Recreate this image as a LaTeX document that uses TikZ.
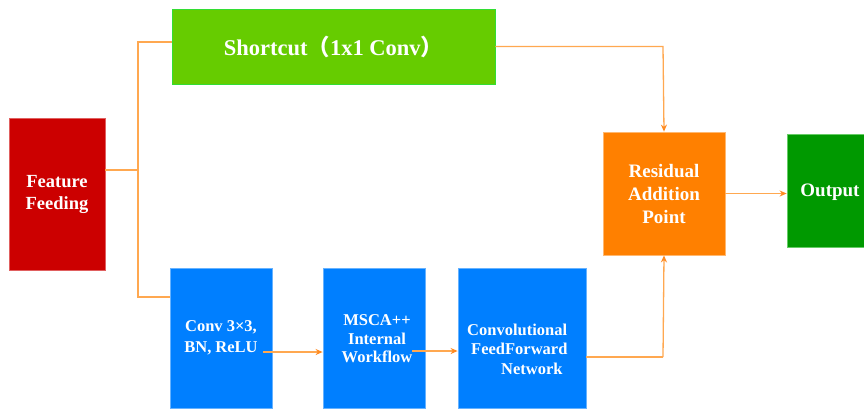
\documentclass[tikz,border=0pt]{standalone}
\usepackage{fontspec}
\setmainfont{Liberation Serif}
\newfontfamily\cjk{Noto Sans CJK SC}
\usetikzlibrary{arrows.meta}
\definecolor{fred}{HTML}{CC0000}
\definecolor{fredb}{HTML}{E06060}
\definecolor{fgreen}{HTML}{66CC00}
\definecolor{fgreenb}{HTML}{33DD33}
\definecolor{fblue}{HTML}{007FFF}
\definecolor{fblueb}{HTML}{66B2FF}
\definecolor{forange}{HTML}{FF8000}
\definecolor{forangeb}{HTML}{FFB870}
\definecolor{fdgreen}{HTML}{009900}
\definecolor{fdgreenb}{HTML}{66CC66}
\definecolor{lineor}{HTML}{FFA850}
\definecolor{arrowor}{HTML}{FF8A20}
\begin{document}
\begin{tikzpicture}[x=1pt,y=-1pt,
  box/.style={draw, line width=0.8pt, inner sep=0pt, text=white, align=center},
  txt/.style={text=white, inner sep=0pt},
  conn/.style={draw=lineor, line width=1.3pt},
  arr/.style={conn, -{Stealth[length=7pt,width=6pt,color=arrowor]}}]
\useasboundingbox[fill=white] (0,0) rectangle (864,408);
% boxes
\node[box, fill=fred, draw=fredb, minimum width=96pt, minimum height=152pt,
  font=\bfseries\fontsize{18.5}{22}\selectfont] (feed) at (57,194) {Feature\\Feeding};
\node[box, fill=fgreen, draw=fgreenb, minimum width=323pt, minimum height=75pt,
  font=\bfseries\fontsize{22.5}{26}\selectfont] (short) at (333.5,46.5) {Shortcut{\cjk （}1x1 Conv{\cjk ）}};
\node[box, fill=fblue, draw=fblueb, minimum width=102pt, minimum height=140pt,
  font=\bfseries\fontsize{16.5}{21}\selectfont] (conv) at (221,338) {Conv 3×3,\\BN, ReLU};
\node[box, fill=fblue, draw=fblueb, minimum width=102pt, minimum height=140pt] (msca) at (374,338) {};
\node[txt, font=\bfseries\fontsize{16.5}{18.5}\selectfont, align=center] (mscat) at (377,339) {MSCA++\\Internal\\Workflow};
\node[box, fill=fblue, draw=fblueb, minimum width=128pt, minimum height=140pt] (cff) at (522,338) {};
\node[txt, font=\bfseries\fontsize{16.5}{19.5}\selectfont, align=left, anchor=west] (cfft) at (467,349) {Convolutional\\\hspace*{4pt}FeedForward\\\hspace*{34pt}Network};
\node[box, fill=forange, draw=forangeb, minimum width=122pt, minimum height=123pt,
  font=\bfseries\fontsize{19}{23}\selectfont] (res) at (664,193.5) {Residual\\Addition\\Point};
\node[box, fill=fdgreen, draw=fdgreenb, minimum width=77pt, minimum height=113pt] (out) at (825.5,190.5) {};
\node[txt, font=\bfseries\fontsize{19}{23}\selectfont] (outt) at (830,192) {Output};
% connectors
\coordinate (j) at (138,170);
\coordinate (jt) at (138,42);
\coordinate (jb) at (138,297);
\draw[conn] (feed.east |- j) -- (j);
\draw[conn] (short.west |- jt) -- (jt) -- (jb) -- (conv.west |- jb);
\coordinate (sr) at (663,46.5);
\draw[arr] (short.east |- sr) -- (sr) -- (res.north);
\coordinate (cr) at (663,357);
\draw[conn] (cff.east |- cr) -- (cr);
\draw[arr] (cr) -- (res.south);
\draw[arr] (res.east) -- (out.west |- res.east);
\coordinate (c1) at (263,352);
\draw[arr] (c1) -- (msca.west |- c1);
\coordinate (c2) at (412,351);
\draw[arr] (c2) -- (cff.west |- c2);
\end{tikzpicture}
\end{document}
